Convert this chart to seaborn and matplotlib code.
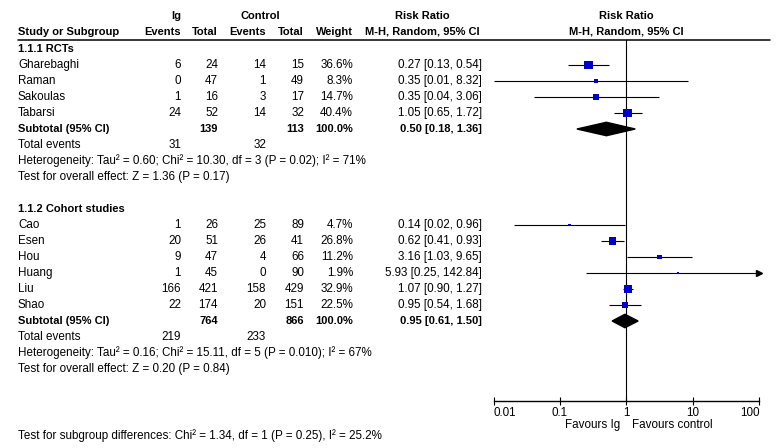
import numpy as np
import pandas as pd
import matplotlib
matplotlib.use("Agg")
import matplotlib.pyplot as plt
import seaborn as sns

# study level data
study = ["Gharebaghi", "Raman", "Sakoulas", "Tabarsi",
         "Cao", "Esen", "Hou", "Huang", "Liu", "Shao"]
group = [0, 0, 0, 0, 1, 1, 1, 1, 1, 1]
ig_events = [6, 0, 1, 24, 1, 20, 9, 1, 166, 22]
ig_total = [24, 47, 16, 52, 26, 51, 47, 45, 421, 174]
ctl_events = [14, 1, 3, 14, 25, 26, 4, 0, 158, 20]
ctl_total = [15, 49, 17, 32, 89, 41, 66, 90, 429, 151]
weight = [36.6, 8.3, 14.7, 40.4, 4.7, 26.8, 11.2, 1.9, 32.9, 22.5]
rr = [0.27, 0.35, 0.35, 1.05, 0.14, 0.62, 3.16, 5.93, 1.07, 0.95]
rr_lo = [0.13, 0.01, 0.04, 0.65, 0.02, 0.41, 1.03, 0.25, 0.90, 0.54]
rr_hi = [0.54, 8.32, 3.06, 1.72, 0.96, 0.93, 9.65, 142.84, 1.27, 1.68]

# subgroup data
subgroups = ["1.1.1 RCTs", "1.1.2 Cohort studies"]
sub_ig_total = [139, 764]
sub_ctl_total = [113, 866]
sub_ig_events = [31, 219]
sub_ctl_events = [32, 233]
sub_rr = [0.50, 0.95]
sub_lo = [0.18, 0.61]
sub_hi = [1.36, 1.50]
heterogeneity = ["Heterogeneity: Tau\u00b2 = 0.60; Chi\u00b2 = 10.30, df = 3 (P = 0.02); I\u00b2 = 71%",
                 "Heterogeneity: Tau\u00b2 = 0.16; Chi\u00b2 = 15.11, df = 5 (P = 0.010); I\u00b2 = 67%"]
overall = ["Test for overall effect: Z = 1.36 (P = 0.17)",
           "Test for overall effect: Z = 0.20 (P = 0.84)"]
subgroup_test = "Test for subgroup differences: Chi\u00b2 = 1.34, df = 1 (P = 0.25), I\u00b2 = 25.2%"
axis_ticks = [0.01, 0.1, 1, 10, 100]
axis_labels = ["0.01", "0.1", "1", "10", "100"]
favours = ["Favours Ig", "Favours control"]

sns.set_theme(style="white")
plt.rcParams["font.family"] = ["Liberation Sans", "DejaVu Sans"]
FS = 8.4
FS_B = 8.0
W, H = 780, 448

# row layout: row r sits at pixel y = Y0 + PITCH * r
Y0, PITCH = 49, 16
def ypx(r):
    return Y0 + PITCH * r

# assign rows
rows = []
sub_rows, total_rows, het_rows, eff_rows, head_rows = [], [], [], [], []
r = 0
for g in range(len(subgroups)):
    head_rows.append(r)
    r += 1
    for i in range(len(study)):
        if group[i] == g:
            rows.append(r)
            r += 1
    sub_rows.append(r)
    total_rows.append(r + 1)
    het_rows.append(r + 2)
    eff_rows.append(r + 3)
    r += 5

fig = plt.figure(figsize=(W / 100, H / 100), dpi=100)

# text layer in pixel coordinates
tx = fig.add_axes([0, 0, 1, 1])
tx.set_xlim(0, W)
tx.set_ylim(H, 0)
tx.axis("off")

def put(x, y, s, ha="left", bold=False):
    tx.text(x, y, s, ha=ha, va="center", fontsize=FS_B if bold else FS,
            fontweight="bold" if bold else "normal", color="black")

X_NAME, X_IGE, X_IGT, X_CE, X_CT, X_W, X_RR = 18, 181, 218, 266, 304, 353, 482

# headers
put(176, 16, "Ig", ha="center", bold=True)
put(260, 16, "Control", ha="center", bold=True)
put(422, 16, "Risk Ratio", ha="center", bold=True)
put(626, 16, "Risk Ratio", ha="center", bold=True)
put(X_NAME, 32, "Study or Subgroup", bold=True)
put(X_IGE, 32, "Events", ha="right", bold=True)
put(X_IGT, 32, "Total", ha="right", bold=True)
put(X_CE, 32, "Events", ha="right", bold=True)
put(X_CT, 32, "Total", ha="right", bold=True)
put(X_W, 32, "Weight", ha="right", bold=True)
put(422, 32, "M-H, Random, 95% CI", ha="center", bold=True)
put(626, 32, "M-H, Random, 95% CI", ha="center", bold=True)
tx.plot([18, 770], [40, 40], color="black", lw=1.1)

for i in range(len(study)):
    y = ypx(rows[i])
    put(X_NAME, y, study[i])
    put(X_IGE, y, str(ig_events[i]), ha="right")
    put(X_IGT, y, str(ig_total[i]), ha="right")
    put(X_CE, y, str(ctl_events[i]), ha="right")
    put(X_CT, y, str(ctl_total[i]), ha="right")
    put(X_W, y, f"{weight[i]:.1f}%", ha="right")
    put(X_RR, y, f"{rr[i]:.2f} [{rr_lo[i]:.2f}, {rr_hi[i]:.2f}]", ha="right")

for g in range(len(subgroups)):
    put(X_NAME, ypx(head_rows[g]), subgroups[g], bold=True)
    y = ypx(sub_rows[g])
    put(X_NAME, y, "Subtotal (95% CI)", bold=True)
    put(X_IGT, y, str(sub_ig_total[g]), ha="right", bold=True)
    put(X_CT, y, str(sub_ctl_total[g]), ha="right", bold=True)
    put(X_W, y, "100.0%", ha="right", bold=True)
    put(X_RR, y, f"{sub_rr[g]:.2f} [{sub_lo[g]:.2f}, {sub_hi[g]:.2f}]", ha="right", bold=True)
    y = ypx(total_rows[g])
    put(X_NAME, y, "Total events")
    put(X_IGE, y, str(sub_ig_events[g]), ha="right")
    put(X_CE, y, str(sub_ctl_events[g]), ha="right")
    put(X_NAME, ypx(het_rows[g]), heterogeneity[g])
    put(X_NAME, ypx(eff_rows[g]), overall[g])

put(X_NAME, 436, subgroup_test)
put(620, 425, favours[0], ha="right")
put(632, 425, favours[1], ha="left")

# forest axes
X_LEFT, X_RIGHT, Y_TOP, Y_AXIS = 493.5, 759.3, 40, 400.7
ax = fig.add_axes([X_LEFT / W, 1 - Y_AXIS / H, (X_RIGHT - X_LEFT) / W, (Y_AXIS - Y_TOP) / H])
ax.set_xscale("log")
ax.set_xlim(axis_ticks[0], axis_ticks[-1])
ax.set_ylim((Y_AXIS - Y0) / PITCH, (Y_TOP - Y0) / PITCH)
ax.patch.set_alpha(0)
for side in ["top", "left", "right"]:
    ax.spines[side].set_visible(False)
ax.spines["bottom"].set_color("black")
ax.spines["bottom"].set_linewidth(1.0)
ax.set_yticks([])
ax.axvline(1, color="black", lw=0.8)

df = pd.DataFrame({"row": rows, "rr": rr, "lo": rr_lo, "hi": rr_hi, "w": weight})
ax.hlines(df["row"], df["lo"], df["hi"].clip(upper=axis_ticks[-1]), color="black", lw=0.8)
over = df[df["hi"] > axis_ticks[-1]]
ax.plot(np.full(len(over), axis_ticks[-1]), over["row"], marker=">", ms=4,
        color="black", ls="none", clip_on=False)
sns.scatterplot(data=df, x="rr", y="row", size="w", sizes=(0, 40),
                size_norm=(0, 40.4), marker="s", color="#0000CC",
                edgecolor="none", legend=False, ax=ax, zorder=3)

for g in range(len(subgroups)):
    yy = sub_rows[g]
    ax.fill([sub_lo[g], sub_rr[g], sub_hi[g], sub_rr[g]],
            [yy, yy - 0.42, yy, yy + 0.42], color="black", zorder=3)

ax.set_xticks(axis_ticks, axis_labels)
ax.minorticks_off()
ax.tick_params(axis="x", direction="inout", length=5.5, width=0.8,
               labelsize=FS, pad=1.5, colors="black", bottom=True)
labels = ax.get_xticklabels()
labels[0].set_ha("left")
labels[-1].set_ha("right")
ax.set_xlabel("")
ax.set_ylabel("")

fig.savefig("out.png", dpi=100)
